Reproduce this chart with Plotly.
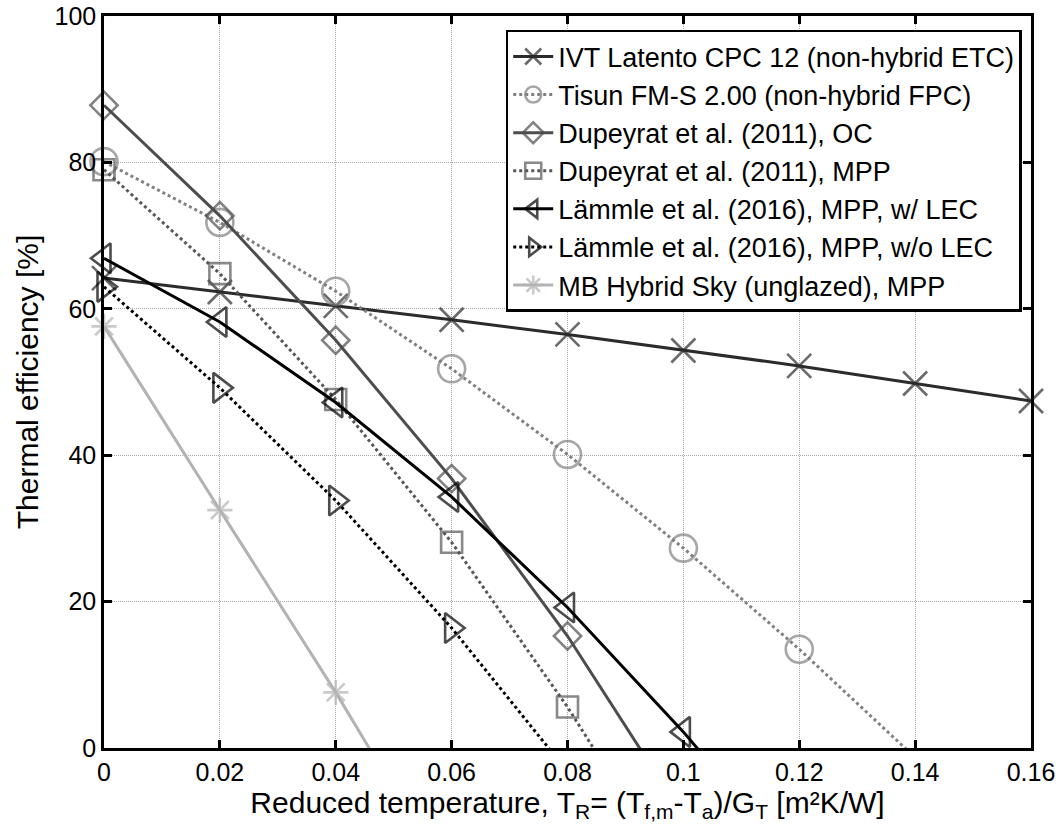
import plotly.graph_objects as go

# Reduced temperature grid [m2K/W] and thermal efficiency [%] for each collector
x_ivt = [0, 0.02, 0.04, 0.06, 0.08, 0.10, 0.12, 0.14, 0.16]
eta_ivt = [64.2, 62.3, 60.4, 58.5, 56.5, 54.3, 52.2, 49.8, 47.4]

x_tisun = [0, 0.02, 0.04, 0.06, 0.08, 0.10, 0.12, 0.14]
eta_tisun = [80.1, 71.8, 62.4, 51.8, 40.1, 27.3, 13.5, -1.3]

x_dup_oc = [0, 0.02, 0.04, 0.06, 0.08, 0.10]
eta_dup_oc = [87.8, 72.7, 55.7, 36.8, 15.3, -9.3]

x_dup_mpp = [0, 0.02, 0.04, 0.06, 0.08, 0.10]
eta_dup_mpp = [79.0, 64.8, 47.6, 28.1, 5.6, -19.5]

x_lam_lec = [0, 0.02, 0.04, 0.06, 0.08, 0.10, 0.12]
eta_lam_lec = [66.9, 58.2, 47.2, 34.3, 19.2, 2.2, -16.5]

x_lam_nolec = [0, 0.02, 0.04, 0.06, 0.08]
eta_lam_nolec = [63.0, 49.2, 33.8, 16.4, -3.2]

x_mb = [0, 0.02, 0.04, 0.06]
eta_mb = [57.6, 32.5, 7.6, -18.8]

series_names = [
    "IVT Latento CPC 12 (non-hybrid ETC)",
    "Tisun FM-S 2.00 (non-hybrid FPC)",
    "Dupeyrat et al. (2011), OC",
    "Dupeyrat et al. (2011), MPP",
    "Lämmle et al. (2016), MPP, w/ LEC",
    "Lämmle et al. (2016), MPP, w/o LEC",
    "MB Hybrid Sky (unglazed), MPP",
]

x_tick_vals = [0, 0.02, 0.04, 0.06, 0.08, 0.10, 0.12, 0.14, 0.16]
x_tick_text = ["0", "0.02", "0.04", "0.06", "0.08", "0.1", "0.12", "0.14", "0.16"]
y_tick_vals = [0, 20, 40, 60, 80, 100]
y_tick_text = ["0", "20", "40", "60", "80", "100"]

FONT = "Liberation Sans, Arial, Helvetica, sans-serif"

styles = [
    dict(color="#2b2b2b", dash="solid", symbol="x-thin-open", size=24),
    dict(color="#808080", dash="dot", symbol="circle-open", size=27),
    dict(color="#4d4d4d", dash="solid", symbol="diamond-open", size=21),
    dict(color="#575757", dash="dot", symbol="square-open", size=21),
    dict(color="#000000", dash="solid", symbol="triangle-left-open", size=26),
    dict(color="#000000", dash="dot", symbol="triangle-right-open", size=26),
    dict(color="#b3b3b3", dash="solid", symbol="asterisk-open", size=21),
]

data = [
    (x_ivt, eta_ivt),
    (x_tisun, eta_tisun),
    (x_dup_oc, eta_dup_oc),
    (x_dup_mpp, eta_dup_mpp),
    (x_lam_lec, eta_lam_lec),
    (x_lam_nolec, eta_lam_nolec),
    (x_mb, eta_mb),
]

fig = go.Figure()
for name, (xs, ys), st in zip(series_names, data, styles):
    # markers only for points inside the efficiency range; lines run on to the axis
    sizes = [st["size"] if y >= 0 else 0 for y in ys]
    fig.add_trace(go.Scatter(
        x=xs, y=ys, name=name, mode="lines+markers",
        line=dict(color=st["color"], width=3, dash=st["dash"]),
        marker=dict(symbol=st["symbol"], size=sizes, color=st["color"],
                    line=dict(color=st["color"], width=2.6)),
        cliponaxis=False,
    ))

axis_common = dict(
    showline=True, linecolor="black", linewidth=2.5, mirror="ticks",
    ticks="inside", ticklen=8, tickwidth=2.5, tickcolor="black",
    showgrid=True, gridcolor="#a6a6a6", gridwidth=1, griddash="1px,1px",
    zeroline=False, automargin=False,
    tickfont=dict(family=FONT, size=25, color="black"),
)

fig.update_layout(
    width=1059, height=830,
    margin=dict(l=104, r=28, t=16, b=82, autoexpand=False),
    paper_bgcolor="white", plot_bgcolor="white",
    font=dict(family=FONT, size=25, color="black"),
    xaxis=dict(
        range=[0, 0.16], tickvals=x_tick_vals, ticktext=x_tick_text,
        title=dict(
            text="Reduced temperature, T<sub>R</sub>= (T<sub>f,m</sub>-T<sub>a</sub>)/G<sub>T</sub> [m²K/W]",
            font=dict(family=FONT, size=30), standoff=0,
        ),
        **axis_common,
    ),
    yaxis=dict(
        range=[0, 100], tickvals=y_tick_vals, ticktext=y_tick_text,
        title=dict(text="Thermal efficiency [%]", font=dict(family=FONT, size=30), standoff=8),
        **axis_common,
    ),
    legend=dict(
        x=0.990, xanchor="right", y=0.981, yanchor="top",
        bgcolor="white", bordercolor="black", borderwidth=2.5,
        font=dict(family=FONT, size=27, color="black"),
        itemwidth=40, tracegroupgap=0,
    ),
    showlegend=True,
)

fig.write_html("out.html")
